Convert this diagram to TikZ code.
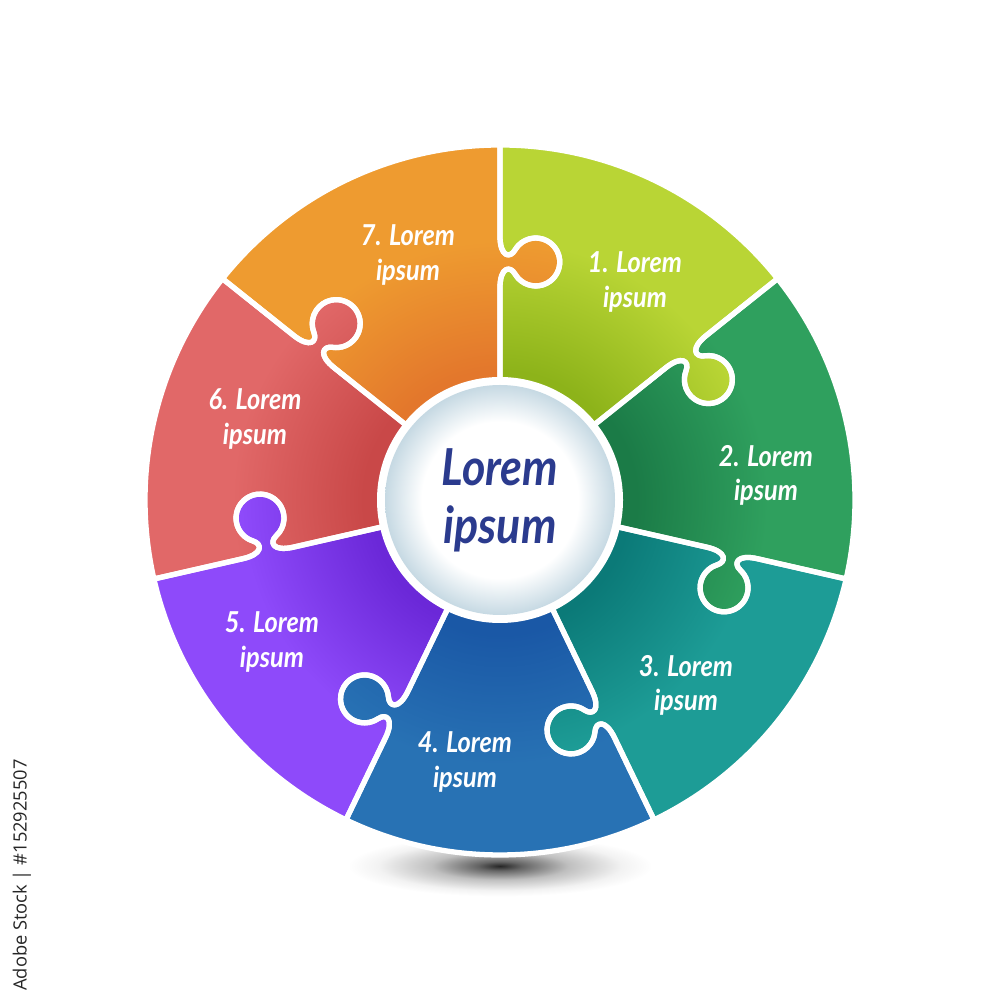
\documentclass[tikz,border=0pt]{standalone}
\usepackage{fontspec}
\usepackage{xcolor}
\usepackage{tikz}
\setmainfont{Lato}
\newfontfamily\handfont[FakeStretch=0.88]{Lato}
\newfontfamily\stockfont{Open Sans}
\definecolor{limeg}{HTML}{B9D535}
\definecolor{limegdk}{HTML}{8DB31A}
\definecolor{leaf}{HTML}{2FA05E}
\definecolor{leafdk}{HTML}{1B7B47}
\definecolor{lagoon}{HTML}{1D9C96}
\definecolor{lagoondk}{HTML}{0B7A78}
\definecolor{cobalt}{HTML}{2872B4}
\definecolor{cobaltdk}{HTML}{1A58A6}
\definecolor{grape}{HTML}{8E4AFA}
\definecolor{grapedk}{HTML}{6B28D8}
\definecolor{coral}{HTML}{E16868}
\definecolor{coraldk}{HTML}{C94848}
\definecolor{tangerine}{HTML}{EE9B30}
\definecolor{tangerinedk}{HTML}{E3772C}
\definecolor{hubedge}{HTML}{C6D9E3}
\definecolor{ink}{HTML}{2B3B8E}
\colorlet{pdark}{limegdk}
\colorlet{plight}{limeg}
\pgfdeclareradialshading[pdark,plight]{piecefade}{\pgfpointorigin}%
  {color(0bp)=(pdark); color(9bp)=(pdark); color(18bp)=(plight); color(50bp)=(plight)}
\pgfdeclareradialshading{hubfade}{\pgfpointorigin}%
  {color(0bp)=(white); color(17bp)=(white); color(25bp)=(hubedge); color(50bp)=(hubedge)}
\pgfdeclareradialshading{shadowfade}{\pgfpointorigin}%
  {color(0bp)=(black!85); color(3bp)=(black!60); color(9bp)=(black!25); color(16bp)=(black!5); color(20bp)=(white); color(50bp)=(white)}
% radii: inner, outer, knob position, bulb
\def\rin{1.0}
\def\rout{3.55}
\def\rknob{2.38}
\def\rbulb{0.24}
% point at (radial, clockwise) offset on the seam at angle #1
\newcommand{\lp}[3]{({(#2)*cos(#1)+(#3)*sin(#1)},{(#2)*sin(#1)-(#3)*cos(#1)})}
\newcommand{\piecepath}[2]{%
  \lp{#1}{\rin}{0} -- \lp{#1}{\rknob-0.26}{0}
  .. controls \lp{#1}{\rknob-0.05}{0} and \lp{#1}{\rknob-0.033}{0.1} .. \lp{#1}{\rknob-0.12}{0.15}
  arc[start angle=#1+120, end angle=#1+420, radius=\rbulb]
  .. controls \lp{#1}{\rknob+0.033}{0.1} and \lp{#1}{\rknob+0.05}{0} .. \lp{#1}{\rknob+0.26}{0}
  -- \lp{#1}{\rout}{0} arc[start angle=#1, end angle=#2, radius=\rout]
  -- \lp{#2}{\rknob+0.26}{0}
  .. controls \lp{#2}{\rknob+0.05}{0} and \lp{#2}{\rknob+0.033}{0.1} .. \lp{#2}{\rknob+0.12}{0.15}
  arc[start angle=#2+420, end angle=#2+120, radius=\rbulb]
  .. controls \lp{#2}{\rknob-0.033}{0.1} and \lp{#2}{\rknob-0.05}{0} .. \lp{#2}{\rknob-0.26}{0}
  -- \lp{#2}{\rin}{0} arc[start angle=#2, end angle=#1, radius=\rin] -- cycle}
\tikzset{
  seam/.style={draw=white, line width=1.5pt, line join=round},
  lbl/.style={text=white, align=center, inner sep=0pt,
              font=\handfont\bfseries\itshape\fontsize{8.2}{9.7}\selectfont},
  hublbl/.style={text=ink, align=center, inner sep=0pt,
                 font=\handfont\bfseries\itshape\fontsize{14.5}{16.5}\selectfont},
}
\begin{document}
\begin{tikzpicture}
\fill[white] (-5,-5) rectangle (5,5);
\useasboundingbox (-5,-5) rectangle (5,5);

% shadow under the wheel
\begin{scope}[shift={(0,-3.66)}, yscale=0.2]
  \shade[shading=shadowfade] (0,0) circle (1.9);
\end{scope}

% pieces
\foreach \lite/\dk [count=\i] in {limeg/limegdk, leaf/leafdk, lagoon/lagoondk, cobalt/cobaltdk,
                                  grape/grapedk, coral/coraldk, tangerine/tangerinedk} {
  \pgfmathsetmacro\a{90-(\i-1)*360/7}
  \pgfmathsetmacro\b{\a-360/7}
  \colorlet{pdark}{\dk}
  \colorlet{plight}{\lite}
  \path[path picture={\shade[shading=piecefade] (0,0) circle (3.6);}] \piecepath{\a}{\b};
}
\foreach \i in {1,...,7} {
  \pgfmathsetmacro\a{90-(\i-1)*360/7}
  \pgfmathsetmacro\b{\a-360/7}
  \draw[seam] \piecepath{\a}{\b};
}

% hub
\fill[white] (0,0) circle (1.23);
\shade[shading=hubfade] (0,0) circle (1.15);
\node[hublbl] (hub) at (0,0) {Lorem\\ipsum};

\node[lbl] (lbl1) at (1.35,2.18) {1. Lorem\\ipsum};
\node[lbl] (lbl2) at (2.66,0.25) {2. Lorem\\ipsum};
\node[lbl] (lbl3) at (1.86,-1.85) {3. Lorem\\ipsum};
\node[lbl] (lbl4) at (-0.35,-2.62) {4. Lorem\\ipsum};
\node[lbl] (lbl5) at (-2.28,-1.42) {5. Lorem\\ipsum};
\node[lbl] (lbl6) at (-2.45,0.81) {6. Lorem\\ipsum};
\node[lbl] (lbl7) at (-0.92,2.45) {7. Lorem\\ipsum};

\node[rotate=90, text=black!85, font=\stockfont\fontsize{5.2}{6}\selectfont, inner sep=0pt]
  (stock) at (-4.78,-3.75) {Adobe Stock | \#152925507};
\end{tikzpicture}
\end{document}
